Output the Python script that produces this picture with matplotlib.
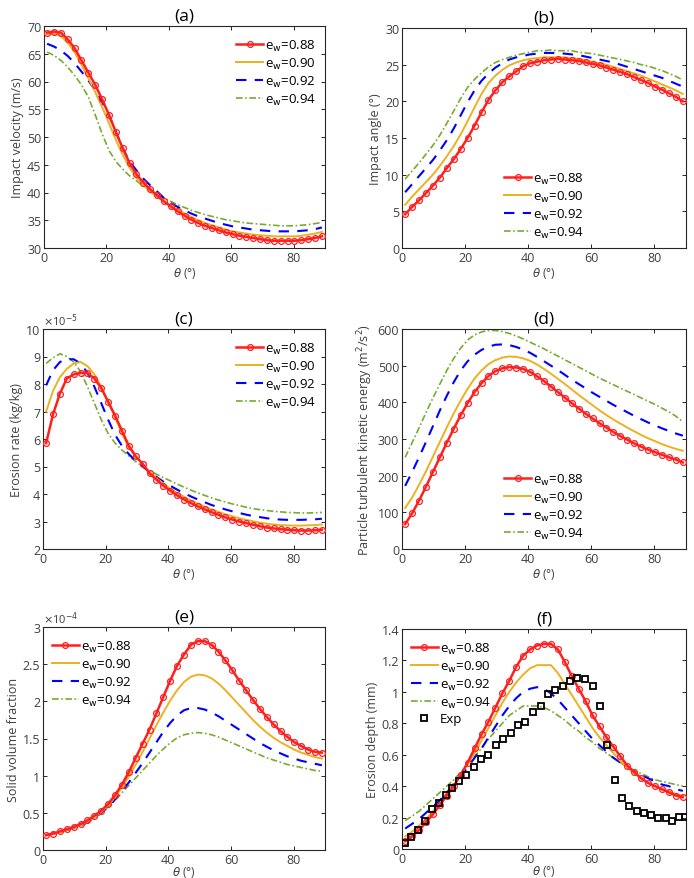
import matplotlib
matplotlib.use('Agg')
import matplotlib.pyplot as plt
from matplotlib.ticker import MultipleLocator, FormatStrFormatter

plt.rcParams['font.family'] = ['Open Sans', 'DejaVu Sans']
plt.rcParams['mathtext.fontset'] = 'dejavusans'

# incidence angle grid (deg)
theta = [1.0, 3.2, 5.4, 7.6, 9.8, 12.0, 14.2, 16.4, 18.6, 20.8, 23.0, 25.2, 27.4, 29.6,
         31.8, 34.0, 36.2, 38.4, 40.6, 42.8, 45.0, 47.2, 49.4, 51.6, 53.8, 56.0, 58.2,
         60.4, 62.6, 64.8, 67.0, 69.2, 71.4, 73.6, 75.8, 78.0, 80.2, 82.4, 84.6, 86.8, 89.0]
ew_labels = ['0.88', '0.90', '0.92', '0.94']

# (a) impact velocity (m/s)
vel_088 = [68.8, 69.0, 68.8, 67.6, 66.0, 63.8, 61.6, 59.4, 56.8, 54.0, 50.9, 48.0, 45.3, 43.3,
           41.8, 40.6, 39.5, 38.4, 37.5, 36.6, 35.8, 35.1, 34.5, 34.0, 33.6, 33.2, 32.8,
           32.5, 32.2, 32.0, 31.8, 31.6, 31.4, 31.3, 31.3, 31.3, 31.3, 31.4, 31.6, 31.8, 32.1]
vel_090 = [68.5, 68.6, 68.2, 67.0, 65.3, 63.0, 60.6, 58.1, 55.4, 52.5, 49.5, 46.8, 44.5, 42.6,
           41.3, 40.2, 39.2, 38.4, 37.6, 36.9, 36.2, 35.6, 35.0, 34.5, 34.1, 33.7, 33.3,
           33.0, 32.8, 32.6, 32.4, 32.3, 32.2, 32.1, 32.1, 32.1, 32.1, 32.2, 32.4, 32.6, 32.9]
vel_092 = [66.8, 66.3, 65.6, 64.6, 63.3, 61.8, 60.2, 58.4, 56.3, 53.9, 51.0, 48.0, 45.6, 44.0,
           42.5, 41.3, 40.2, 39.0, 38.1, 37.4, 36.8, 36.2, 35.7, 35.3, 34.9, 34.5, 34.2,
           33.9, 33.7, 33.5, 33.3, 33.2, 33.1, 33.0, 33.0, 33.0, 33.0, 33.1, 33.2, 33.4, 33.7]
vel_094 = [65.3, 64.7, 63.8, 62.6, 61.1, 59.4, 57.2, 54.0, 50.6, 47.6, 45.6, 44.2, 43.0, 42.1,
           41.2, 40.4, 39.7, 39.0, 38.4, 37.8, 37.3, 36.8, 36.4, 36.0, 35.7, 35.4, 35.1,
           34.9, 34.7, 34.5, 34.4, 34.3, 34.2, 34.1, 34.0, 34.0, 34.0, 34.1, 34.2, 34.4, 34.6]

# (b) impact angle (deg)
ang_088 = [4.6, 5.6, 6.5, 7.5, 8.5, 9.6, 10.9, 12.1, 13.5, 15.0, 16.7, 18.5, 20.2, 21.5,
           22.6, 23.4, 24.1, 24.8, 25.2, 25.4, 25.6, 25.7, 25.8, 25.7, 25.6, 25.5, 25.3,
           25.1, 24.9, 24.6, 24.3, 24.0, 23.7, 23.3, 22.9, 22.5, 22.0, 21.6, 21.1, 20.6, 20.0]
ang_090 = [5.9, 7.0, 8.0, 9.0, 10.0, 11.2, 12.5, 13.9, 15.5, 17.3, 19.2, 21.0, 22.5, 23.5,
           24.3, 24.9, 25.3, 25.6, 25.8, 25.9, 26.0, 26.0, 26.0, 26.0, 25.9, 25.8, 25.6,
           25.4, 25.2, 25.0, 24.7, 24.4, 24.1, 23.8, 23.5, 23.1, 22.7, 22.3, 21.9, 21.5, 21.0]
ang_092 = [7.6, 8.7, 9.8, 10.9, 12.0, 13.3, 14.7, 16.3, 18.1, 19.9, 21.5, 22.8, 23.8, 24.6,
           25.2, 25.7, 26.0, 26.2, 26.4, 26.5, 26.6, 26.6, 26.6, 26.5, 26.4, 26.3, 26.1,
           25.9, 25.7, 25.5, 25.3, 25.0, 24.7, 24.4, 24.1, 23.8, 23.5, 23.2, 22.8, 22.4, 22.0]
ang_094 = [9.4, 10.5, 11.6, 12.8, 14.0, 15.4, 17.0, 18.7, 20.4, 21.9, 23.0, 23.9, 24.7, 25.3,
           25.7, 26.0, 26.3, 26.5, 26.7, 26.9, 26.9, 27.0, 26.9, 26.9, 26.9, 26.7, 26.6,
           26.5, 26.3, 26.1, 25.9, 25.7, 25.5, 25.3, 25.0, 24.8, 24.5, 24.2, 23.8, 23.4, 22.9]

# (c) erosion rate (x1e-5 kg/kg)
er_088 = [5.85, 6.90, 7.65, 8.20, 8.35, 8.40, 8.40, 8.20, 7.85, 7.35, 6.85, 6.30, 5.75, 5.37,
          5.10, 4.75, 4.52, 4.30, 4.12, 3.95, 3.80, 3.67, 3.55, 3.44, 3.34, 3.24, 3.15,
          3.07, 3.00, 2.94, 2.88, 2.83, 2.78, 2.75, 2.72, 2.70, 2.68, 2.67, 2.67, 2.68, 2.70]
er_090 = [7.00, 7.75, 8.25, 8.55, 8.75, 8.80, 8.65, 8.35, 7.90, 7.35, 6.80, 6.20, 5.70, 5.35,
          5.10, 4.80, 4.58, 4.38, 4.20, 4.04, 3.90, 3.77, 3.65, 3.54, 3.44, 3.35, 3.26,
          3.19, 3.12, 3.06, 3.01, 2.96, 2.92, 2.89, 2.87, 2.86, 2.85, 2.85, 2.86, 2.87, 2.89]
er_092 = [7.95, 8.50, 8.80, 8.90, 8.90, 8.75, 8.40, 7.90, 7.30, 6.70, 6.15, 5.75, 5.45, 5.20,
          5.00, 4.80, 4.62, 4.45, 4.30, 4.16, 4.03, 3.91, 3.80, 3.70, 3.60, 3.52, 3.44,
          3.37, 3.31, 3.25, 3.20, 3.16, 3.12, 3.09, 3.07, 3.06, 3.06, 3.06, 3.07, 3.08, 3.10]
er_094 = [8.75, 8.95, 9.10, 9.00, 8.80, 8.45, 7.90, 7.30, 6.70, 6.20, 5.85, 5.60, 5.38, 5.18,
          5.00, 4.85, 4.72, 4.60, 4.48, 4.36, 4.25, 4.14, 4.04, 3.95, 3.86, 3.78, 3.71,
          3.64, 3.58, 3.52, 3.47, 3.43, 3.40, 3.37, 3.35, 3.33, 3.32, 3.31, 3.31, 3.32, 3.33]

# (d) particle turbulent kinetic energy (m2/s2)
tke_088 = [68, 97, 132, 170, 210, 250, 290, 328, 365, 398, 428, 452, 472, 485,
           493, 496, 495, 491, 483, 471, 458, 443, 428, 413, 398, 383, 369,
           356, 343, 331, 319, 308, 298, 288, 279, 271, 264, 257, 250, 244, 236]
tke_090 = [112, 140, 175, 212, 252, 292, 332, 370, 405, 437, 465, 487, 504, 515,
           522, 525, 524, 520, 513, 503, 491, 478, 464, 450, 435, 420, 406,
           392, 378, 365, 353, 342, 331, 321, 311, 302, 294, 286, 279, 273, 268]
tke_092 = [172, 210, 250, 292, 335, 378, 418, 455, 487, 512, 530, 543, 552, 557,
           558, 556, 551, 544, 535, 524, 512, 500, 488, 475, 462, 450, 438,
           426, 415, 404, 393, 383, 373, 363, 354, 345, 337, 329, 322, 315, 309]
tke_094 = [250, 290, 330, 372, 412, 450, 487, 520, 548, 570, 584, 592, 596, 596,
           593, 588, 581, 573, 564, 555, 546, 536, 526, 516, 506, 496, 486,
           476, 466, 457, 448, 439, 430, 421, 412, 403, 394, 384, 374, 362, 347]

# (e) solid volume fraction (x1e-4)
svf_088 = [0.20, 0.22, 0.25, 0.28, 0.31, 0.35, 0.40, 0.46, 0.53, 0.62, 0.74, 0.88, 1.05, 1.24,
           1.43, 1.62, 1.84, 2.06, 2.28, 2.48, 2.63, 2.76, 2.81, 2.81, 2.76, 2.67, 2.55,
           2.42, 2.28, 2.15, 2.02, 1.90, 1.79, 1.69, 1.60, 1.52, 1.45, 1.40, 1.35, 1.32, 1.31]
svf_090 = [0.20, 0.22, 0.24, 0.27, 0.30, 0.34, 0.38, 0.44, 0.51, 0.60, 0.71, 0.84, 0.99, 1.15,
           1.32, 1.50, 1.68, 1.85, 2.01, 2.15, 2.26, 2.33, 2.36, 2.35, 2.31, 2.24, 2.15,
           2.05, 1.95, 1.85, 1.75, 1.66, 1.58, 1.51, 1.45, 1.40, 1.35, 1.31, 1.28, 1.25, 1.23]
svf_092 = [0.20, 0.22, 0.24, 0.27, 0.30, 0.33, 0.37, 0.43, 0.50, 0.58, 0.68, 0.79, 0.91, 1.04,
           1.17, 1.31, 1.45, 1.59, 1.71, 1.81, 1.88, 1.91, 1.91, 1.89, 1.85, 1.80, 1.74,
           1.68, 1.62, 1.56, 1.50, 1.44, 1.39, 1.34, 1.30, 1.26, 1.23, 1.20, 1.18, 1.16, 1.14]
svf_094 = [0.20, 0.22, 0.24, 0.26, 0.29, 0.33, 0.37, 0.43, 0.50, 0.58, 0.67, 0.77, 0.87, 0.97,
           1.07, 1.17, 1.27, 1.36, 1.44, 1.51, 1.55, 1.57, 1.58, 1.57, 1.55, 1.52, 1.48,
           1.44, 1.40, 1.36, 1.32, 1.28, 1.24, 1.21, 1.18, 1.15, 1.13, 1.11, 1.09, 1.07, 1.06]

# (f) erosion depth (mm)
dep_088 = [0.05, 0.08, 0.12, 0.17, 0.22, 0.28, 0.34, 0.40, 0.47, 0.55, 0.64, 0.73, 0.81, 0.90,
           0.99, 1.07, 1.16, 1.23, 1.27, 1.295, 1.305, 1.305, 1.27, 1.19, 1.10, 1.02, 0.94,
           0.85, 0.78, 0.71, 0.65, 0.59, 0.53, 0.49, 0.45, 0.42, 0.40, 0.38, 0.36, 0.34, 0.33]
dep_090 = [0.08, 0.11, 0.15, 0.19, 0.24, 0.29, 0.35, 0.41, 0.47, 0.54, 0.61, 0.69, 0.77, 0.85,
           0.93, 1.00, 1.06, 1.11, 1.15, 1.17, 1.17, 1.17, 1.12, 1.05, 0.98, 0.91, 0.84,
           0.77, 0.71, 0.66, 0.61, 0.56, 0.52, 0.48, 0.45, 0.42, 0.40, 0.38, 0.37, 0.35, 0.34]
dep_092 = [0.13, 0.16, 0.19, 0.23, 0.27, 0.31, 0.36, 0.41, 0.46, 0.52, 0.58, 0.64, 0.71, 0.78,
           0.85, 0.91, 0.96, 1.00, 1.02, 1.03, 1.02, 0.99, 0.95, 0.90, 0.85, 0.80, 0.75,
           0.70, 0.66, 0.62, 0.58, 0.55, 0.52, 0.49, 0.47, 0.45, 0.43, 0.41, 0.40, 0.38, 0.37]
dep_094 = [0.18, 0.21, 0.24, 0.28, 0.32, 0.36, 0.40, 0.44, 0.49, 0.54, 0.59, 0.64, 0.70, 0.75,
           0.80, 0.85, 0.88, 0.91, 0.91, 0.91, 0.90, 0.88, 0.85, 0.82, 0.78, 0.75, 0.71,
           0.68, 0.64, 0.61, 0.58, 0.55, 0.52, 0.50, 0.48, 0.46, 0.44, 0.43, 0.42, 0.41, 0.40]

exp_theta = [0.9, 3.0, 5.1, 7.3, 9.5, 11.8, 13.8, 16.0, 18.2, 20.4, 22.7, 25.0, 27.3, 29.7,
             32.1, 34.4, 36.8, 39.1, 41.4, 43.9, 46.3, 48.6, 51.0, 53.3, 55.6, 58.0, 60.4,
             62.7, 65.1, 67.5, 69.7, 72.0, 74.4, 76.7, 79.0, 81.2, 83.6, 85.7, 87.7, 89.6]
exp_depth = [0.036, 0.074, 0.12, 0.18, 0.255, 0.29, 0.345, 0.39, 0.435, 0.47, 0.525, 0.57,
             0.60, 0.66, 0.70, 0.74, 0.79, 0.81, 0.875, 0.91, 0.985, 1.015, 1.035, 1.07, 1.09,
             1.085, 1.035, 0.91, 0.665, 0.44, 0.325, 0.275, 0.245, 0.23, 0.215, 0.20, 0.20,
             0.18, 0.205, 0.205]

GRAY = '#404040'
styles = [
    dict(color='#ff1f1f', lw=1.8, ls='-', marker='o', mfc='none', ms=4.2, mew=0.9, zorder=5),
    dict(color='#edb120', lw=1.4, ls='-', zorder=4),
    dict(color='#0000ff', lw=1.5, ls=(0, (5, 4)), zorder=3),
    dict(color='#77ac30', lw=1.2, ls=(0, (4, 1.5, 1, 1.5)), zorder=2),
]

fig = plt.figure(figsize=(6.94, 8.79), dpi=100)
W, H = 694.0, 879.0


def make_axes(x0, x1, y0, y1):
    return fig.add_axes([x0 / W, 1 - y1 / H, (x1 - x0) / W, (y1 - y0) / H])


def panel(ax, series, title, ylabel, ylim, ystep, yfmt, legend_kw, scale=None, exp=False,
          xlabelpad=1):
    for vals, lab, st in zip(series, ew_labels, styles):
        ax.plot(theta, vals, label=r'e$_\mathrm{w}$=' + lab, **st)
    if exp:
        ax.plot(exp_theta, exp_depth, ls='none', marker='s', mfc='none', mec='black',
                ms=4.2, mew=1.3, label='Exp', zorder=6)
    ax.set_xlim(0, 90)
    ax.set_ylim(*ylim)
    ax.xaxis.set_major_locator(MultipleLocator(20))
    ax.yaxis.set_major_locator(MultipleLocator(ystep))
    if yfmt == '%g':
        ax.yaxis.set_major_formatter(plt.FuncFormatter(lambda v, p: '%g' % round(v, 2)))
    else:
        ax.yaxis.set_major_formatter(FormatStrFormatter(yfmt))
    ax.tick_params(direction='in', top=True, right=True, length=3, width=0.7,
                   labelsize=9, colors='#262626', labelcolor=GRAY, pad=2)
    for sp in ax.spines.values():
        sp.set_linewidth(0.8)
        sp.set_color('#262626')
    ax.set_xlabel(r'$\theta$ (°)', fontsize=8.5, color=GRAY, labelpad=xlabelpad)
    ax.set_ylabel(ylabel, fontsize=9, color=GRAY, labelpad=2)
    ax.set_title(title, fontsize=12.5, pad=5)
    if scale:
        ax.text(0.0, 1.005, scale, transform=ax.transAxes, fontsize=8, color=GRAY,
                ha='left', va='bottom')
    ax.legend(frameon=False, fontsize=9.5, handlelength=2.0, handletextpad=0.15,
              labelspacing=0.22, borderaxespad=0.3, numpoints=1, **legend_kw)


ax_a = make_axes(44, 325, 27, 249)
panel(ax_a, [vel_088, vel_090, vel_092, vel_094], '(a)', 'Impact velocity (m/s)',
      (30, 70), 5, '%d', dict(loc='upper right', bbox_to_anchor=(1.0, 0.99)))

ax_b = make_axes(402, 686, 29, 249)
panel(ax_b, [ang_088, ang_090, ang_092, ang_094], '(b)', 'Impact angle (°)',
      (0, 30), 5, '%d', dict(loc='lower center', bbox_to_anchor=(0.5, -0.005)))

ax_c = make_axes(43, 325, 330, 550)
panel(ax_c, [er_088, er_090, er_092, er_094], '(c)', 'Erosion rate (kg/kg)',
      (2, 10), 1, '%d', dict(loc='upper right', bbox_to_anchor=(1.0, 0.99)),
      scale=r'$\times$10$^{-5}$')

ax_d = make_axes(402, 686, 330, 550)
panel(ax_d, [tke_088, tke_090, tke_092, tke_094], '(d)',
      r'Particle turbulent kinetic energy (m$^2$/s$^2$)',
      (0, 600), 100, '%d', dict(loc='lower center', bbox_to_anchor=(0.5, -0.005)))

ax_e = make_axes(43, 325, 628, 851)
panel(ax_e, [svf_088, svf_090, svf_092, svf_094], '(e)', 'Solid volume fraction',
      (0, 3), 0.5, '%g', dict(loc='upper left', bbox_to_anchor=(0.0, 0.99)),
      scale=r'$\times$10$^{-4}$', xlabelpad=-1)

ax_f = make_axes(402, 686, 630, 850)
panel(ax_f, [dep_088, dep_090, dep_092, dep_094], '(f)', 'Erosion depth (mm)',
      (0, 1.4), 0.2, '%g', dict(loc='upper left', bbox_to_anchor=(0.0, 0.99)), exp=True,
      xlabelpad=-1)

fig.savefig('out.png', dpi=100)
